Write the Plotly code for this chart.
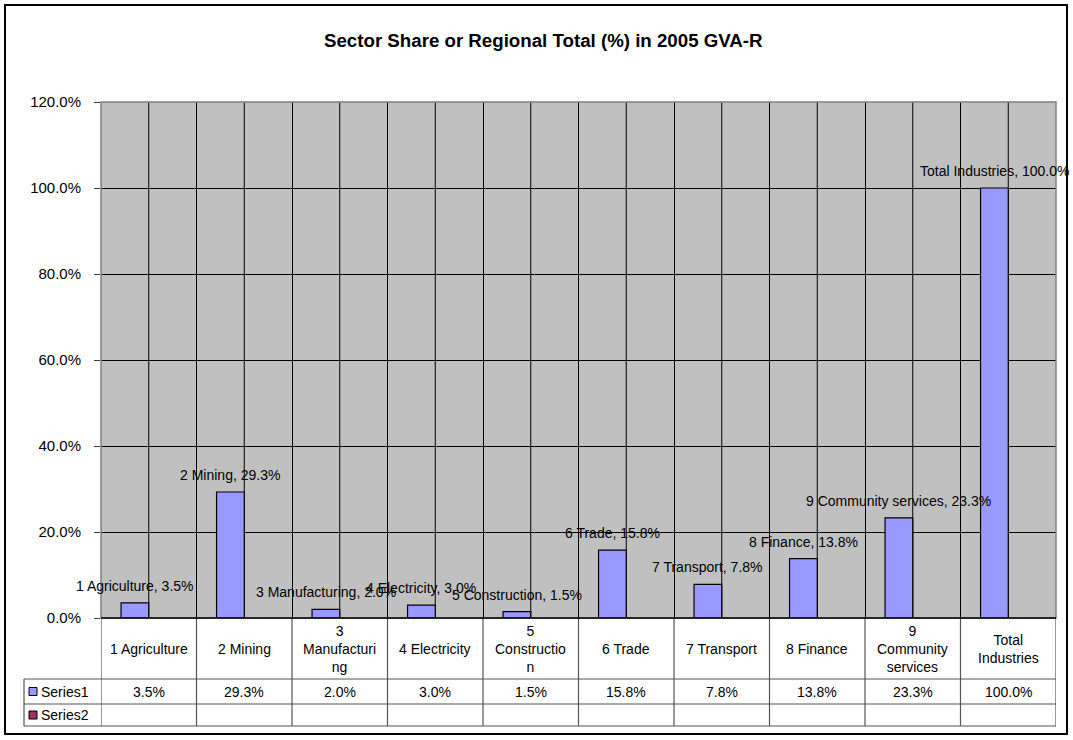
import plotly.graph_objects as go

# ---------------- data ----------------
categories = ["1 Agriculture", "2 Mining", "3 Manufacturing", "4 Electricity",
              "5 Construction", "6 Trade", "7 Transport", "8 Finance",
              "9 Community services", "Total Industries"]
series1_values = [3.5, 29.3, 2.0, 3.0, 1.5, 15.8, 7.8, 13.8, 23.3, 100.0]
series2_values = [None] * 10
table_labels = ["1 Agriculture", "2 Mining", "3<br>Manufacturi<br>ng", "4 Electricity",
                "5<br>Constructio<br>n", "6 Trade", "7 Transport", "8 Finance",
                "9<br>Community<br>services", "Total<br>Industries"]
series_names = ["Series1", "Series2"]
series_colors = ["#9999FF", "#993366"]
y_ticks = [0, 20, 40, 60, 80, 100, 120]
title_text = "Sector Share or Regional Total (%) in 2005 GVA-R"

# ---------------- geometry helpers (pixels -> paper) ----------------
W, H = 1073, 740
L, R, T, B = 101, 1056, 102, 618
def px(x):
    return (x - L) / (R - L)
def py(y):
    return (B - y) / (B - T)

FONT = "Liberation Sans, Arial, sans-serif"
BAR_W = 0.29
CAT_PX = (R - L) / len(categories)

fig = go.Figure()
fig.add_trace(go.Bar(
    x=categories, y=series1_values, name=series_names[0],
    marker=dict(color=series_colors[0], line=dict(color="black", width=1.2)),
    width=BAR_W, offset=-BAR_W,
))
fig.add_trace(go.Bar(
    x=categories, y=series2_values, name=series_names[1],
    marker=dict(color=series_colors[1], line=dict(color="black", width=1)),
    width=BAR_W, offset=0,
))

shapes = []
# vertical gridlines at category centres
for c in categories:
    shapes.append(dict(type="line", xref="x", yref="y", x0=c, x1=c, y0=0, y1=120,
                       line=dict(color="black", width=1), layer="between"))
# plot area border (gray)
shapes.append(dict(type="rect", xref="paper", yref="paper", x0=0, x1=1, y0=0, y1=1,
                   line=dict(color="#808080", width=1.5), layer="above"))
# data table: vertical lines at category boundaries
n = len(categories)
for i in range(n + 1):
    shapes.append(dict(type="line", xref="x", yref="paper", x0=i - 0.5, x1=i - 0.5,
                       y0=py(726), y1=0, line=dict(color="#555555", width=1.2)))
# left legend column line
shapes.append(dict(type="line", xref="paper", yref="paper", x0=px(24), x1=px(24),
                   y0=py(679), y1=py(726), line=dict(color="#555555", width=1.2)))
# horizontal table lines
for yy in (679, 704, 726):
    shapes.append(dict(type="line", xref="paper", yref="paper", x0=px(24), x1=1,
                       y0=py(yy), y1=py(yy), line=dict(color="#555555", width=1.2)))
# bottom axis line (black)
shapes.append(dict(type="line", xref="paper", yref="paper", x0=0, x1=1, y0=0, y1=0,
                   line=dict(color="black", width=1.5), layer="above"))
# legend icons in table
for k, yy in enumerate((691.5, 715)):
    shapes.append(dict(type="rect", xref="paper", yref="paper",
                       x0=px(29), x1=px(37), y0=py(yy + 4), y1=py(yy - 4),
                       fillcolor=series_colors[k], line=dict(color="black", width=1)))
# outer chart frame
shapes.append(dict(type="rect", xref="paper", yref="paper",
                   x0=px(5), x1=px(1067), y0=py(734), y1=py(5),
                   line=dict(color="black", width=2)))

annotations = []
# data labels above the bars
for c, v in zip(categories, series1_values):
    annotations.append(dict(x=c, xref="x", y=v, yref="y", text=f"{c}, {v:.1f}%",
                            showarrow=False, xanchor="center", yanchor="middle",
                            xshift=-BAR_W * CAT_PX / 2, yshift=17,
                            font=dict(family=FONT, size=14, color="black")))
# table header row
for c, lab in zip(categories, table_labels):
    annotations.append(dict(x=c, xref="x", y=py(648.5), yref="paper", text=lab,
                            showarrow=False, xanchor="center", yanchor="middle",
                            align="center", font=dict(family=FONT, size=14, color="black")))
# Series1 row
for c, v in zip(categories, series1_values):
    annotations.append(dict(x=c, xref="x", y=py(691.5), yref="paper", text=f"{v:.1f}%",
                            showarrow=False, xanchor="center", yanchor="middle",
                            font=dict(family=FONT, size=14, color="black")))
# legend column
for k, yy in enumerate((691.5, 715)):
    annotations.append(dict(x=px(39), xref="paper", y=py(yy), yref="paper",
                            text=series_names[k], showarrow=False,
                            xanchor="left", yanchor="middle",
                            font=dict(family=FONT, size=14, color="black")))
annotations.append(dict(x=px(543), xref="paper", y=py(40), yref="paper",
                        text=f"<b>{title_text}</b>", showarrow=False,
                        xanchor="center", yanchor="middle",
                        font=dict(family=FONT, size=18.7, color="black")))

fig.update_layout(
    width=W, height=H, autosize=False,
    margin=dict(l=L, r=W - R, t=T, b=H - B, pad=0),
    paper_bgcolor="white", plot_bgcolor="#C0C0C0",
    barmode="group", bargap=0.42, bargroupgap=0,
    showlegend=False,
    font=dict(family=FONT, size=14, color="black"),
    shapes=shapes, annotations=annotations,
    xaxis=dict(type="category", range=[-0.5, n - 0.5], showticklabels=False,
               showgrid=True, gridcolor="black", gridwidth=1, tickson="boundaries",
               ticks="", showline=False, zeroline=False, fixedrange=True),
    yaxis=dict(range=[0, 120], tickvals=y_ticks,
               ticktext=[f"{t:.1f}%" for t in y_ticks],
               showgrid=True, gridcolor="black", gridwidth=1,
               ticks="outside", ticklen=6, tickcolor="#404040", tickwidth=1,
               ticklabelstandoff=10,
               tickfont=dict(family=FONT, size=15, color="black"),
               showline=False, zeroline=False, fixedrange=True),
)

fig.write_html("out.html",
               config={"displayModeBar": False},
               post_script="document.body.style.margin='0px';document.body.style.overflow='hidden';")
